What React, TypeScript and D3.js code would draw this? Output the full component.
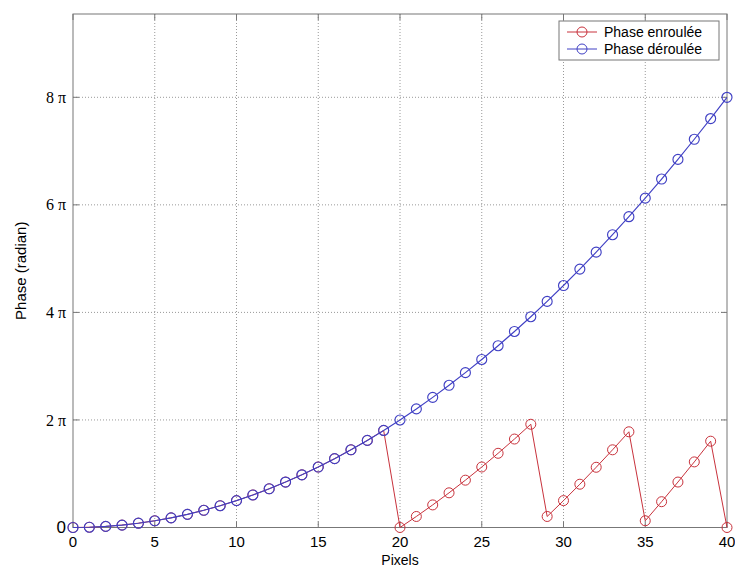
import React from "react";
import * as d3 from "d3";

// x positions (pixels)
const pixels = [0,1,2,3,4,5,6,7,8,9,10,11,12,13,14,15,16,17,18,19,20,21,22,23,24,25,26,27,28,29,30,31,32,33,34,35,36,37,38,39,40];
// unwrapped phase, in units of pi
const unwrappedPi = [0,0.005,0.02,0.045,0.08,0.125,0.18,0.245,0.32,0.405,0.5,0.605,0.72,0.845,0.98,1.125,1.28,1.445,1.62,1.805,2.0,2.205,2.42,2.645,2.88,3.125,3.38,3.645,3.92,4.205,4.5,4.805,5.12,5.445,5.78,6.125,6.48,6.845,7.22,7.605,8.0];
// wrapped phase, in units of pi
const wrappedPi = [0,0.005,0.02,0.045,0.08,0.125,0.18,0.245,0.32,0.405,0.5,0.605,0.72,0.845,0.98,1.125,1.28,1.445,1.62,1.805,0,0.205,0.42,0.645,0.88,1.125,1.38,1.645,1.92,0.205,0.5,0.805,1.12,1.445,1.78,0.125,0.48,0.845,1.22,1.605,0];

const xTicks = [0,5,10,15,20,25,30,35,40];
const yTicksPi = [0,2,4,6,8];
const yTickLabels = ["0","2 π","4 π","6 π","8 π"];
const seriesNames = ["Phase enroulée","Phase déroulée"];

const W = 735, H = 566;
const L = 73, R = 727, T = 14, B = 527.5;
const RED = "#c8323c";
const BLUE = "#4040c4";

export default function App() {
  const x = d3.scaleLinear().domain([0, 40]).range([L, R]);
  const y = d3.scaleLinear().domain([0, 30]).range([B, T]);
  const line = d3.line<number>().x((_, i) => x(pixels[i])).y((v) => y(v * Math.PI));
  const series = [
    { name: seriesNames[0], data: wrappedPi, color: RED, w: 1 },
    { name: seriesNames[1], data: unwrappedPi, color: BLUE, w: 1.15 },
  ];
  const sans = "Liberation Sans, Arial, sans-serif";
  const serif = "Liberation Serif, Times New Roman, serif";
  return (
    <svg width={W} height={H} style={{ position: "absolute", left: 0, top: 0, background: "#fff" }}>
      <rect x={0} y={0} width={W} height={H} fill="#fff" />
      {/* grid */}
      {xTicks.slice(1, -1).map((t) => (
        <line key={"gx" + t} x1={x(t)} x2={x(t)} y1={T} y2={B} stroke="#999" strokeWidth={1} strokeDasharray="1,2" />
      ))}
      {yTicksPi.slice(1).map((t) => (
        <line key={"gy" + t} x1={L} x2={R} y1={y(t * Math.PI)} y2={y(t * Math.PI)} stroke="#999" strokeWidth={1} strokeDasharray="1,2" />
      ))}
      {/* tick marks */}
      {xTicks.map((t) => (
        <g key={"tx" + t}>
          <line x1={x(t)} x2={x(t)} y1={B} y2={B - 6} stroke="#777" />
          <line x1={x(t)} x2={x(t)} y1={T} y2={T + 6} stroke="#777" />
        </g>
      ))}
      {yTicksPi.map((t) => (
        <g key={"ty" + t}>
          <line x1={L} x2={L + 6} y1={y(t * Math.PI)} y2={y(t * Math.PI)} stroke="#777" />
          <line x1={R} x2={R - 6} y1={y(t * Math.PI)} y2={y(t * Math.PI)} stroke="#777" />
        </g>
      ))}
      {/* frame */}
      <rect x={L} y={T} width={R - L} height={B - T} fill="none" stroke="#777" strokeWidth={1} />
      {/* series */}
      {series.map((s) => (
        <g key={s.name}>
          <path d={line(s.data) || ""} fill="none" stroke={s.color} strokeWidth={s.w} />
          {s.data.map((v, i) => (
            <circle key={i} cx={x(pixels[i])} cy={y(v * Math.PI)} r={5} fill="none" stroke={s.color} strokeWidth={s.w} />
          ))}
        </g>
      ))}
      {/* x tick labels */}
      {xTicks.map((t) => (
        <text key={"lx" + t} x={x(t)} y={546.5} textAnchor="middle" fontFamily={sans} fontSize={15} fill="#000">{t}</text>
      ))}
      {/* y tick labels */}
      {yTicksPi.map((t, i) => (
        <text key={"ly" + t} x={66} y={y(t * Math.PI)} dy="0.35em" textAnchor="end"
          fontFamily={i === 0 ? sans : serif} fontSize={i === 0 ? 17 : 16} fill="#000">{yTickLabels[i]}</text>
      ))}
      {/* axis labels */}
      <text x={400} y={564.5} textAnchor="middle" fontFamily={sans} fontSize={14} fill="#000">Pixels</text>
      <text transform={`translate(26,${(T + B) / 2}) rotate(-90)`} textAnchor="middle" fontFamily={sans} fontSize={15} fill="#000">Phase (radian)</text>
      {/* legend */}
      <rect x={559} y={21} width={160} height={39} fill="#fff" stroke="#777" strokeWidth={1} />
      {series.map((s, i) => (
        <g key={"lg" + i}>
          <line x1={567} x2={597} y1={32 + i * 17} y2={32 + i * 17} stroke={s.color} />
          <circle cx={582} cy={32 + i * 17} r={5} fill="none" stroke={s.color} />
          <text x={604} y={32 + i * 17} dy="0.35em" fontFamily={sans} fontSize={14} fill="#000">{s.name}</text>
        </g>
      ))}
    </svg>
  );
}
